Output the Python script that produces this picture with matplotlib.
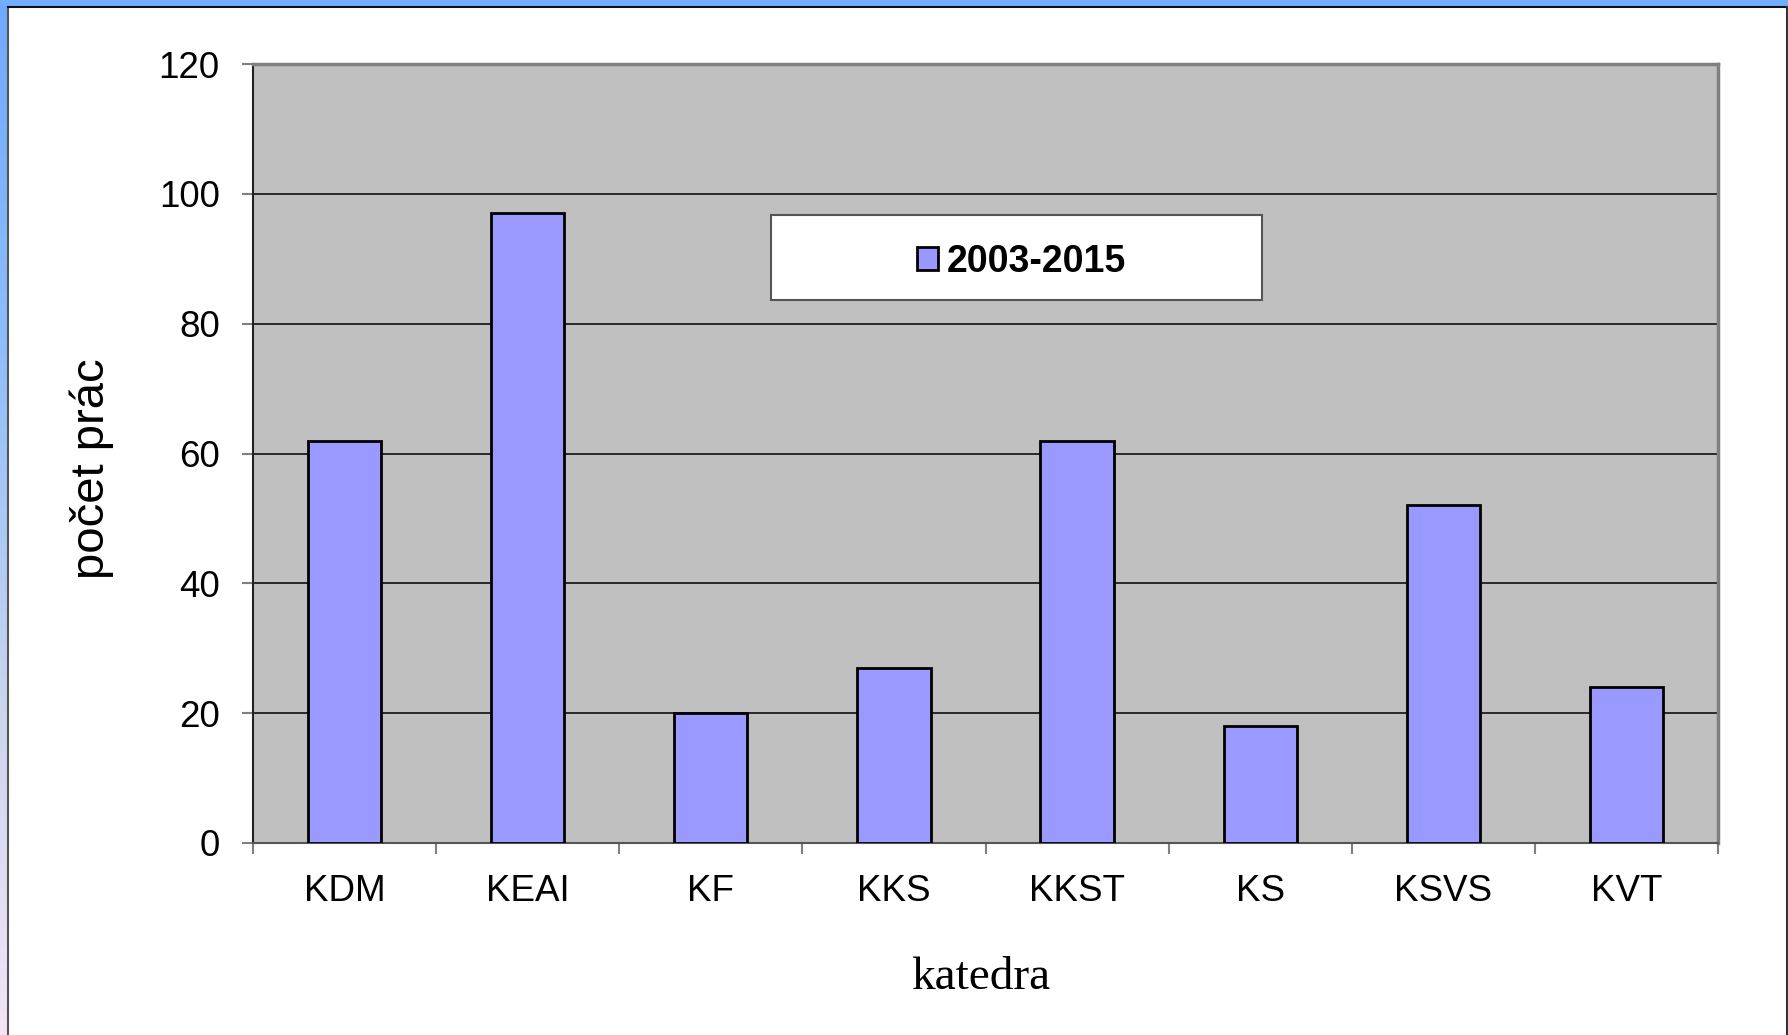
import numpy as np
import matplotlib
matplotlib.use("Agg")
import matplotlib.pyplot as plt
from matplotlib.patches import Rectangle
from matplotlib.colors import LinearSegmentedColormap

categories = ["KDM", "KEAI", "KF", "KKS", "KKST", "KS", "KSVS", "KVT"]
values = [62, 97, 20, 27, 62, 18, 52, 24]
series_name = "2003-2015"
yticks = [0, 20, 40, 60, 80, 100, 120]

W, H = 1788, 1035
fig = plt.figure(figsize=(W / 100, H / 100), dpi=100)
fig.patch.set_facecolor("white")

# slide frame: top blue strip, left gradient strip, dark edge lines
fig.patches.append(Rectangle((0, 1 - 6 / H), 1, 6 / H, transform=fig.transFigure,
                             facecolor="#72AEFF", edgecolor="none", zorder=0))
gax = fig.add_axes([0, 0, 7 / W, 1 - 6 / H])
cmap = LinearSegmentedColormap.from_list("g", ["#70AAFF", "#8EBEFA", "#C8D4EE", "#F4E4F6"])
gax.imshow(np.linspace(0, 1, 256).reshape(-1, 1), aspect="auto", cmap=cmap)
gax.axis("off")
fig.lines.append(plt.Line2D([7.5 / W, 7.5 / W], [0, 1 - 6.5 / H], transform=fig.transFigure,
                            color="#555555", lw=1.5))
fig.lines.append(plt.Line2D([7.5 / W, 1], [1 - 6.5 / H, 1 - 6.5 / H], transform=fig.transFigure,
                            color="#111111", lw=1.5))
fig.lines.append(plt.Line2D([1786.5 / W, 1786.5 / W], [0, 1 - 6.5 / H], transform=fig.transFigure,
                            color="#333333", lw=1.5))

left, right, top, bottom = 253, 1718, 64, 843
ax = fig.add_axes([left / W, 1 - bottom / H, (right - left) / W, (bottom - top) / H])
ax.set_facecolor("#C0C0C0")

x = np.arange(len(categories))
ax.bar(x, values, width=0.4, color="#9999FF", edgecolor="black", linewidth=2,
       label=series_name, zorder=3)

ax.set_xlim(-0.5, len(categories) - 0.5)
ax.set_ylim(0, 120)
ax.set_yticks(yticks)
ax.set_yticklabels([str(v) for v in yticks])
for v in yticks[1:-1]:
    ax.axhline(v, color="black", lw=1.1, zorder=1)

ax.set_xticks(x)
ax.set_xticklabels(categories)
ax.set_xticks(np.arange(-0.5, len(categories)), minor=True)
ax.tick_params(axis="x", which="major", length=0, pad=22, labelsize=26.5)
ax.tick_params(axis="x", which="minor", length=8, width=1.5, color="#808080", direction="out")
ax.tick_params(axis="y", length=8, width=1.5, color="#808080", pad=16, labelsize=26.5)

for s in ["top", "right"]:
    ax.spines[s].set_color("#808080")
    ax.spines[s].set_linewidth(2.5)
ax.spines["left"].set_color("#222222")
ax.spines["left"].set_linewidth(1.5)
ax.spines["bottom"].set_color("#555555")
ax.spines["bottom"].set_linewidth(1.5)

for lab in ax.get_xticklabels() + ax.get_yticklabels():
    lab.set_family(["Liberation Sans", "DejaVu Sans"])

ax.set_ylabel("počet prác", fontsize=34, family=["Liberation Sans", "DejaVu Sans"])
ax.yaxis.set_label_coords(-0.110, 0.481)
ax.yaxis.label.set_va("center")
ax.set_xlabel("katedra", fontsize=34, family=["Liberation Serif", "DejaVu Serif"])
ax.xaxis.set_label_coords(0.497, -0.146)
ax.xaxis.label.set_va("top")

# legend box
lx0, lx1, ly0, ly1 = 771, 1262, 215, 300
ax.add_patch(Rectangle((lx0 / W, 1 - ly1 / H), (lx1 - lx0) / W, (ly1 - ly0) / H,
                       transform=fig.transFigure, facecolor="white", clip_on=False,
                       edgecolor="#555555", lw=1.5, zorder=5))
leg = ax.legend(loc="center",
                bbox_to_anchor=((lx0 + lx1) / 2 / W + 5 / W, 1 - (ly0 + ly1) / 2 / H - 4 / H),
                bbox_transform=fig.transFigure, frameon=False,
                prop={"family": ["Liberation Sans", "DejaVu Sans"], "weight": "bold", "size": 27},
                handlelength=0.55, handleheight=0.55, handletextpad=0.22)
leg.set_zorder(6)

fig.savefig("out.png", dpi=100)
